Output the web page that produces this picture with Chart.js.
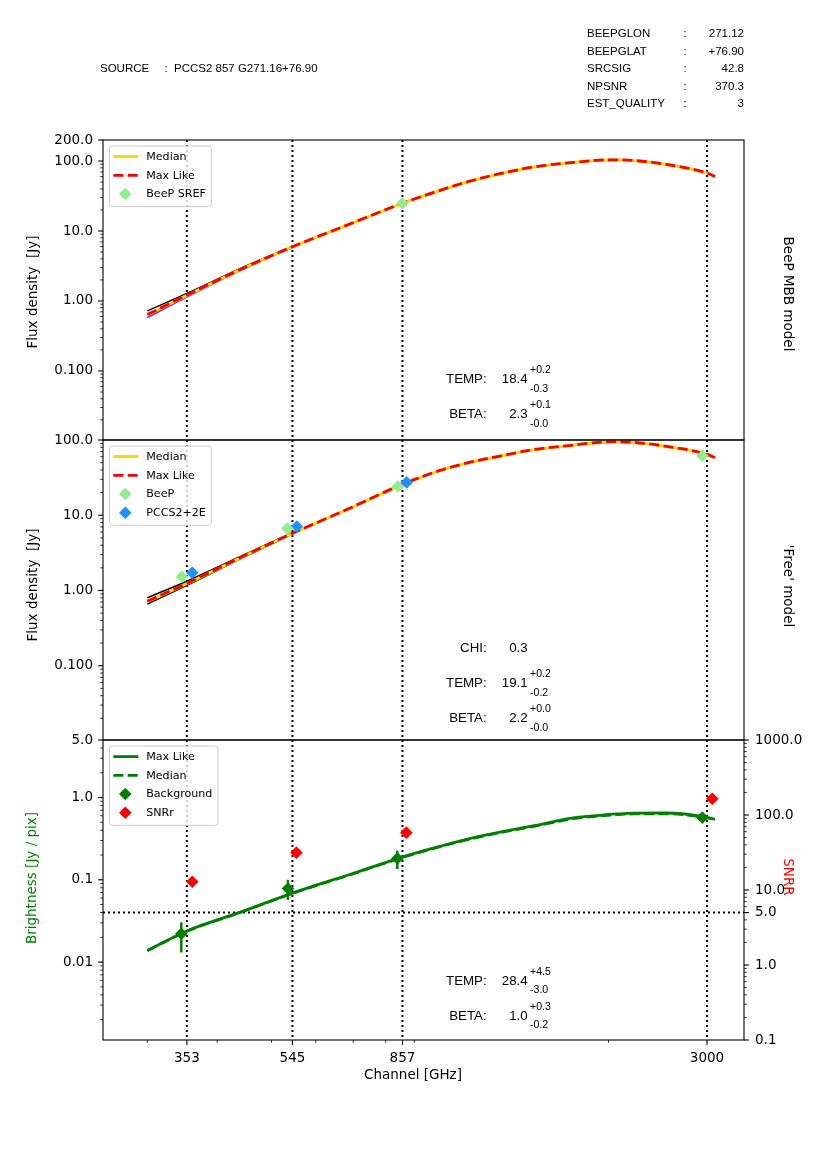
<!DOCTYPE html>
<html>
<head>
<meta charset="utf-8">
<script src="https://cdn.jsdelivr.net/npm/chart.js@4/dist/chart.umd.min.js"></script>
<style>
html,body{margin:0;padding:0;background:#fff;}
#wrap{position:relative;width:827px;height:1169px;overflow:hidden;background:#fff;}
canvas{position:absolute;left:0;top:0;}
.t{position:absolute;white-space:pre;line-height:1;color:#000;}
</style>
</head>
<body>
<div id="wrap">
<canvas id="c1" width="827" height="1169"></canvas>
<canvas id="c2" width="827" height="1169"></canvas>
<canvas id="c3" width="827" height="1169"></canvas>
</div>
<script>
// ---------------- DATA ----------------
const channelFreq   = [353, 545, 857, 3000];
const channelLabels = ['353', '545', '857', '3000'];

// model curve sampling frequencies (GHz)
const modelFreq = [300, 353, 439, 545, 690, 857, 1000, 1115, 1280, 1466, 1730, 1929, 2069, 2212, 2537, 3000, 3100];

// Panel 1: BeeP MBB model
const mbbMaxLike = [0.64, 1.21, 2.80, 5.95, 12.6, 25.0, 38.1, 50.1, 66.1, 82.1, 95.7, 103, 103.9, 102, 89.7, 67.4, 60.0];
const mbbMedian  = [0.63, 1.20, 2.78, 5.92, 12.5, 24.9, 37.9, 49.8, 65.8, 81.7, 95.2, 102.5, 103.4, 101.5, 89.3, 67.1, 59.7];
const mbbSampleFreq = [300, 353, 439, 545];
const mbbSampleHigh = [0.72, 1.28, 2.90, 6.02];
const mbbSampleLow  = [0.58, 1.14, 2.70, 5.88];
const beepSrefFreq = [857];
const beepSrefFlux = [24.9];
const mbbTicks      = [0.1, 1, 10, 100, 200];
const mbbTickLabels = ['0.100', '1.00', '10.0', '100.0', '200.0'];

// Panel 2: 'Free' model
const freeMaxLike = [0.72, 1.24, 2.72, 5.75, 12.4, 25.8, 39.4, 49.3, 61.2, 74.3, 85.8, 93.1, 94.9, 93.1, 82.4, 64.5, 58.1];
const freeMedian  = [0.71, 1.23, 2.70, 5.72, 12.3, 25.6, 39.2, 49.0, 60.9, 73.9, 85.4, 92.6, 94.4, 92.7, 82.0, 64.2, 57.8];
const freeSampleFreq = [300, 353, 439, 545];
const freeSampleHigh = [0.80, 1.33, 2.82, 5.85];
const freeSampleLow  = [0.66, 1.17, 2.62, 5.65];
const beepFreq = [346, 534, 841, 2943];
const beepFlux = [1.52, 6.65, 24.1, 61.8];
const pccsFreq = [361, 555, 872];
const pccsFlux = [1.72, 7.07, 27.3];
const freeTicks      = [0.1, 1, 10, 100];
const freeTickLabels = ['0.100', '1.00', '10.0', '100.0'];

// Panel 3: background brightness and SNR
const bgMaxLike = [0.0138, 0.0239, 0.0402, 0.0689, 0.116, 0.189, 0.255, 0.31, 0.38, 0.451, 0.565, 0.608, 0.631, 0.646, 0.648, 0.575, 0.544];
const bgMedian  = [0.0137, 0.0237, 0.0399, 0.0684, 0.115, 0.187, 0.252, 0.305, 0.374, 0.443, 0.553, 0.595, 0.618, 0.632, 0.635, 0.566, 0.538];
const bgFreq    = [345, 535, 839, 2943];
const bgValue   = [0.0221, 0.0785, 0.182, 0.570];
const bgErrLow  = [0.0131, 0.057, 0.135, 0.50];
const bgErrHigh = [0.0304, 0.100, 0.226, 0.64];
const snrFreq   = [361, 554, 871, 3066];
const snrValue  = [12.9, 31.5, 58.2, 165];
const snrThreshold = 5;
const brightTicks      = [0.01, 0.1, 1, 5];
const brightTickLabels = ['0.01', '0.1', '1.0', '5.0'];
const snrTicks      = [0.1, 1, 5, 10, 100, 1000];
const snrTickLabels = ['0.1', '1.0', '5.0', '10.0', '100.0', '1000.0'];

// ---------------- SETTINGS ----------------
const X_MIN = 250, X_MAX = 3493;
const DJ = "'DejaVu Sans', sans-serif";
const AR = "'Liberation Sans', Arial, sans-serif";
const GOLD = '#FFD700', RED = '#FF0000', GREEN = '#008000';

const same = (a, b) => Math.abs(a - b) / b < 1e-6;
function tickSet(min, max, majors) {
  const out = majors.slice();
  for (let e = Math.floor(Math.log10(min)) - 1; e <= Math.ceil(Math.log10(max)); e++) {
    for (let m = 2; m <= 9; m++) {
      const v = m * Math.pow(10, e);
      if (v >= min * 0.9999 && v <= max * 1.0001 && !out.some(o => same(v, o))) out.push(v);
    }
  }
  return out;
}

const panelPlugin = {
  id: 'panel',
  beforeDatasetsDraw(chart, args, o) {
    const {ctx, chartArea: a, scales} = chart;
    ctx.save();
    ctx.beginPath(); ctx.rect(a.left, a.top, a.right - a.left, a.bottom - a.top); ctx.clip();
    ctx.strokeStyle = '#000'; ctx.lineWidth = 2; ctx.setLineDash([2, 3]);
    channelFreq.forEach(f => {
      const x = scales.x.getPixelForValue(f);
      ctx.beginPath(); ctx.moveTo(x, a.top); ctx.lineTo(x, a.bottom); ctx.stroke();
    });
    if (o.hline) {
      const y = scales[o.hline.axis].getPixelForValue(o.hline.value);
      ctx.beginPath(); ctx.moveTo(a.left, y); ctx.lineTo(a.right, y); ctx.stroke();
    }
    ctx.restore();
  },
  afterDatasetsDraw(chart, args, o) {
    if (!o.errbars) return;
    const {ctx, scales} = chart, e = o.errbars;
    ctx.save(); ctx.strokeStyle = e.color; ctx.lineWidth = 2.5;
    e.x.forEach((f, i) => {
      const x = scales.x.getPixelForValue(f);
      ctx.beginPath();
      ctx.moveTo(x, scales.y.getPixelForValue(e.lo[i]));
      ctx.lineTo(x, scales.y.getPixelForValue(e.hi[i]));
      ctx.stroke();
    });
    ctx.restore();
  },
  afterDraw(chart, args, o) {
    const {ctx, chartArea: a, scales} = chart;
    ctx.save();
    ctx.strokeStyle = '#000'; ctx.setLineDash([]);
    // axis ticks
    (o.ticks || []).forEach(t => {
      const sc = scales[t.axis];
      tickSet(sc.min, sc.max, t.majors).forEach(v => {
        const maj = t.majors.some(m => same(v, m));
        const len = maj ? 4.9 : 2.8;
        ctx.lineWidth = maj ? 1.1 : 0.8;
        const p = sc.getPixelForValue(v);
        ctx.beginPath();
        if (t.side === 'left') { ctx.moveTo(a.left, p); ctx.lineTo(a.left - len, p); }
        else if (t.side === 'right') { ctx.moveTo(a.right, p); ctx.lineTo(a.right + len, p); }
        else { ctx.moveTo(p, a.bottom); ctx.lineTo(p, a.bottom + len); }
        ctx.stroke();
      });
    });
    // frame
    ctx.lineWidth = 1.1;
    ctx.strokeRect(a.left, a.top, a.right - a.left, a.bottom - a.top);
    // legend
    if (o.legend) {
      ctx.font = '11.1px ' + DJ;
      const items = o.legend.map(i => chart.data.datasets[i]);
      const tw = Math.max(...items.map(d => ctx.measureText(d.label).width));
      const bx = a.left + 6.5, by = a.top + 6, bw = 36.7 + tw + 5.5, bh = 4.5 + items.length * 18.7;
      ctx.fillStyle = 'rgba(255,255,255,0.8)'; ctx.strokeStyle = '#cccccc'; ctx.lineWidth = 1;
      ctx.beginPath(); ctx.roundRect(bx, by, bw, bh, 3); ctx.fill(); ctx.stroke();
      items.forEach((d, k) => {
        const y = a.top + 16.6 + k * 18.7;
        if (d.showLine === false) {
          const cx = bx + 15.8, r = d.pointRadius;
          ctx.fillStyle = d.pointBackgroundColor;
          ctx.beginPath(); ctx.moveTo(cx - r, y); ctx.lineTo(cx, y - r); ctx.lineTo(cx + r, y); ctx.lineTo(cx, y + r); ctx.closePath(); ctx.fill();
        } else {
          ctx.strokeStyle = d.borderColor; ctx.lineWidth = d.borderWidth; ctx.setLineDash(d.borderDash || []);
          ctx.beginPath(); ctx.moveTo(bx + 3.8, y); ctx.lineTo(bx + 28.8, y); ctx.stroke();
          ctx.setLineDash([]);
        }
        ctx.fillStyle = '#000'; ctx.textBaseline = 'middle'; ctx.textAlign = 'left';
        ctx.fillText(d.label, bx + 36.7, y + 0.5);
      });
    }
    ctx.restore();
  }
};

const pts = (xs, ys) => xs.map((x, i) => ({x, y: ys[i]}));
function lineDs(label, xs, ys, color, lw, dash, yAxisID) {
  return {label, data: pts(xs, ys), borderColor: color, backgroundColor: color, borderWidth: lw,
    borderDash: dash || [], borderCapStyle: 'butt', pointRadius: 0, fill: false,
    cubicInterpolationMode: 'monotone', yAxisID: yAxisID || 'y'};
}
function markerDs(label, xs, ys, color, yAxisID) {
  return {label, data: pts(xs, ys), showLine: false, pointStyle: 'rectRot', pointRadius: 6.3,
    pointBackgroundColor: color, pointBorderColor: color, pointBorderWidth: 0,
    borderColor: color, backgroundColor: color, yAxisID: yAxisID || 'y'};
}
const noGrid = {display: true, drawOnChartArea: false, drawTicks: true, tickLength: 5, color: 'rgba(0,0,0,0)'};
function labelFor(ticks, labels) {
  return v => { const i = ticks.findIndex(t => same(v, t)); return i < 0 ? '' : labels[i]; };
}
function yScale(min, max, ticks, labels, position, width) {
  return {
    type: 'logarithmic', position, min, max,
    afterBuildTicks: s => { s.ticks = ticks.map(v => ({value: v})); },
    afterFit: s => { s.width = width; },
    ticks: {autoSkip: false, padding: position === 'right' ? 6 : 5, color: '#000',
      font: {family: DJ, size: 13.5}, callback: labelFor(ticks, labels)},
    grid: noGrid, border: {display: false}
  };
}
function xScale(show) {
  return {
    type: 'logarithmic', min: X_MIN, max: X_MAX, display: show,
    afterBuildTicks: s => { s.ticks = channelFreq.map(v => ({value: v})); },
    afterFit: s => { s.height = show ? 50 : 0; },
    ticks: {autoSkip: false, maxRotation: 0, minRotation: 0, padding: 5, color: '#000',
      font: {family: DJ, size: 13.5}, callback: labelFor(channelFreq, channelLabels)},
    grid: noGrid, border: {display: false}
  };
}
function makeChart(id, datasets, scales, padding, panel) {
  return new Chart(document.getElementById(id), {
    type: 'line',
    data: {datasets},
    options: {
      responsive: false, animation: false, events: [],
      layout: {padding},
      plugins: {legend: {display: false}, tooltip: {enabled: false}, panel},
      scales
    },
    plugins: [panelPlugin]
  });
}

// ---------------- PANEL 1 ----------------
makeChart('c1', [
  markerDs('BeeP SREF', beepSrefFreq, beepSrefFlux, '#90EE90'),
  lineDs('Max Like', modelFreq, mbbMaxLike, RED, 2.8, [10, 4.4]),
  lineDs('Median', modelFreq, mbbMedian, GOLD, 3),
  lineDs('upper', mbbSampleFreq, mbbSampleHigh, '#000000', 1.4),
  lineDs('lower', mbbSampleFreq, mbbSampleLow, '#8A2BE2', 1.8)
], {
  x: xScale(false),
  y: yScale(0.0103, 200, mbbTicks, mbbTickLabels, 'left', 103)
}, {top: 140, bottom: 729, left: 0, right: 83}, {
  legend: [2, 1, 0],
  ticks: [{axis: 'y', side: 'left', majors: mbbTicks}]
});

// ---------------- PANEL 2 ----------------
makeChart('c2', [
  markerDs('BeeP', beepFreq, beepFlux, '#90EE90'),
  markerDs('PCCS2+2E', pccsFreq, pccsFlux, '#1E90FF'),
  lineDs('Max Like', modelFreq, freeMaxLike, RED, 2.8, [10, 4.4]),
  lineDs('Median', modelFreq, freeMedian, GOLD, 3),
  lineDs('upper', freeSampleFreq, freeSampleHigh, '#000000', 1.6),
  lineDs('lower', freeSampleFreq, freeSampleLow, '#000000', 1.6)
], {
  x: xScale(false),
  y: yScale(0.0103, 100, freeTicks, freeTickLabels, 'left', 103)
}, {top: 440, bottom: 429, left: 0, right: 83}, {
  legend: [3, 2, 0, 1],
  ticks: [{axis: 'y', side: 'left', majors: freeTicks}]
});

// ---------------- PANEL 3 ----------------
makeChart('c3', [
  markerDs('Background', bgFreq, bgValue, GREEN, 'y'),
  markerDs('SNRr', snrFreq, snrValue, RED, 'y2'),
  lineDs('Max Like', modelFreq, bgMaxLike, GREEN, 2.8, null, 'y'),
  lineDs('Median', modelFreq, bgMedian, GREEN, 2.8, [10, 4.4], 'y')
], {
  x: xScale(true),
  y: yScale(0.00113, 5, brightTicks, brightTickLabels, 'left', 103),
  y2: yScale(0.1, 1000, snrTicks, snrTickLabels, 'right', 83)
}, {top: 740, bottom: 79, left: 0, right: 0}, {
  legend: [2, 3, 0, 1],
  hline: {axis: 'y2', value: snrThreshold},
  errbars: {x: bgFreq, lo: bgErrLow, hi: bgErrHigh, color: GREEN},
  ticks: [
    {axis: 'y', side: 'left', majors: brightTicks},
    {axis: 'y2', side: 'right', majors: snrTicks},
    {axis: 'x', side: 'bottom', majors: channelFreq}
  ]
});

// ---------------- TEXT ----------------
const wrap = document.getElementById('wrap');
function put(text, x, y, opt) {
  opt = opt || {};
  const s = document.createElement('span');
  s.className = 't';
  s.textContent = text;
  s.style.left = x + 'px'; s.style.top = y + 'px';
  s.style.fontSize = (opt.size || 13.3) + 'px';
  s.style.fontFamily = opt.family || AR;
  s.style.color = opt.color || '#000';
  const al = opt.align || 'left';
  const tx = al === 'left' ? '0' : al === 'right' ? '-100%' : '-50%';
  s.style.transform = opt.rot ? `translate(-50%,-50%) rotate(${opt.rot}deg)` : `translate(${tx},-50%)`;
  wrap.appendChild(s);
}
// header
const hdr = {size: 11.5};
put('SOURCE', 100, 69.3, hdr);
put(':', 164.6, 69.3, hdr);
put('PCCS2 857 G271.16+76.90', 174, 69.3, hdr);
const hdrKeys = ['BEEPGLON', 'BEEPGLAT', 'SRCSIG', 'NPSNR', 'EST_QUALITY'];
const hdrVals = ['271.12', '+76.90', '42.8', '370.3', '3'];
const hdrY = [34, 51.7, 69.3, 87.3, 104.3];
hdrKeys.forEach((k, i) => {
  put(k, 587, hdrY[i], hdr);
  put(':', 683.5, hdrY[i], hdr);
  put(hdrVals[i], 744, hdrY[i], Object.assign({align: 'right'}, hdr));
});
// fit parameter annotations
function param(name, val, plus, minus, y) {
  put(name, 486.7, y, {align: 'right'});
  put(val, 527.7, y, {align: 'right'});
  if (plus !== null) {
    put(plus, 530, y - 10, {size: 10.6});
    put(minus, 530, y + 8.4, {size: 10.6});
  }
}
param('TEMP:', '18.4', '+0.2', '-0.3', 379.3);
param('BETA:', '2.3', '+0.1', '-0.0', 414.3);
param('CHI:', '0.3', null, null, 648.3);
param('TEMP:', '19.1', '+0.2', '-0.2', 683.3);
param('BETA:', '2.2', '+0.0', '-0.0', 718.3);
param('TEMP:', '28.4', '+4.5', '-3.0', 980.7);
param('BETA:', '1.0', '+0.3', '-0.2', 1016);
// axis titles
const ax = {family: DJ, size: 13.5};
put('Flux density  [Jy]', 32.7, 292, Object.assign({rot: -90}, ax));
put('Flux density  [Jy]', 32.7, 585, Object.assign({rot: -90}, ax));
put('Brightness [Jy / pix]', 31.7, 877.5, Object.assign({rot: -90, color: GREEN}, ax));
put('BeeP MBB model', 787.7, 293.5, Object.assign({rot: 90}, ax));
put("'Free' model", 787.5, 585.5, Object.assign({rot: 90}, ax));
put('SNRR', 788, 877, Object.assign({rot: 90, color: RED}, ax));
put('Channel [GHz]', 413, 1075, Object.assign({align: 'center'}, ax));
</script>
</body>
</html>
